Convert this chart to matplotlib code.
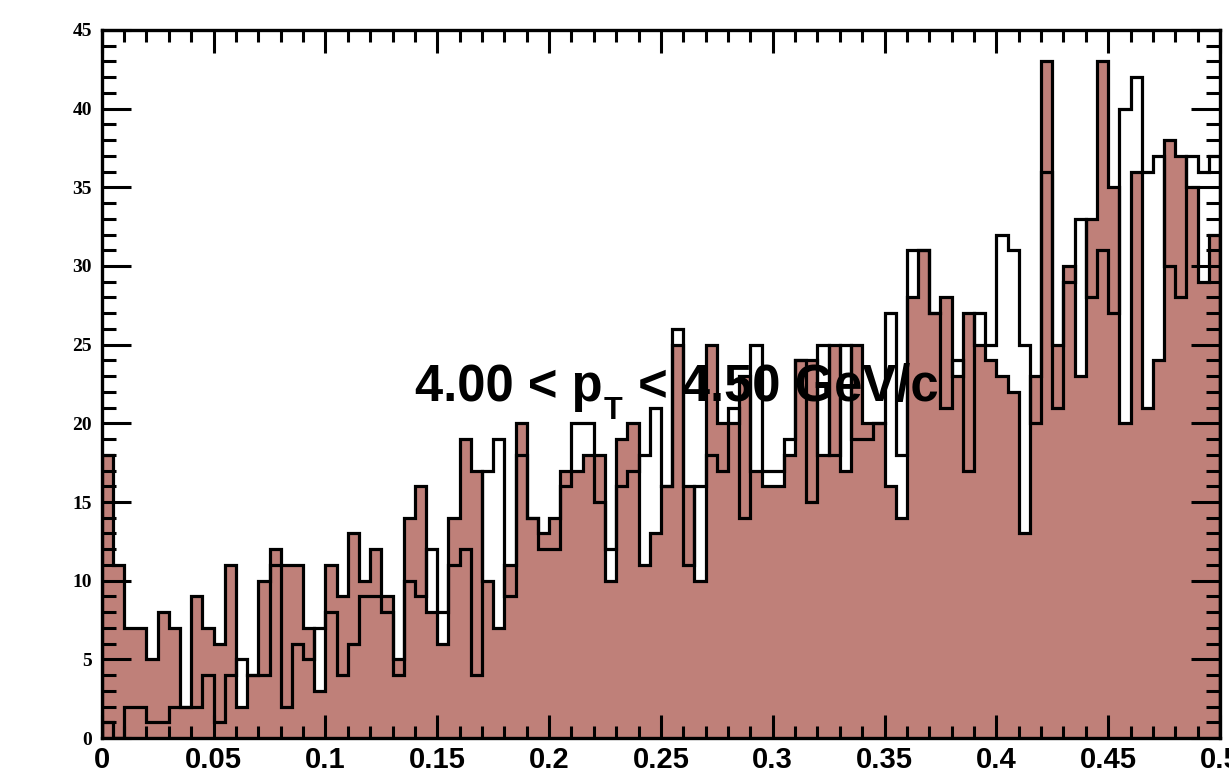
import numpy as np
import matplotlib
matplotlib.use("Agg")
import matplotlib.pyplot as plt
from matplotlib.ticker import MultipleLocator
from matplotlib.transforms import offset_copy

# bin edges: 100 bins of 0.005 between 0 and 0.5
edges = np.linspace(0.0, 0.5, 101)

# filled histogram (brown)
filled_counts = [
    18, 11, 7, 7, 5, 8, 7, 2, 9, 7,
    6, 11, 2, 4, 10, 12, 11, 11, 7, 3,
    11, 9, 13, 10, 12, 9, 5, 14, 16, 8,
    6, 14, 19, 17, 10, 7, 11, 20, 14, 13,
    14, 17, 17, 18, 18, 10, 19, 20, 11, 13,
    16, 25, 16, 10, 25, 20, 20, 23, 17, 16,
    16, 18, 24, 24, 18, 25, 17, 25, 20, 20,
    16, 14, 28, 31, 27, 28, 23, 27, 25, 24,
    23, 22, 13, 23, 43, 25, 30, 23, 33, 43,
    35, 20, 36, 21, 24, 38, 37, 35, 29, 32,
]

# open histogram (black outline only)
outline_counts = [
    1, 0, 2, 2, 1, 1, 2, 2, 2, 4,
    1, 4, 5, 4, 4, 11, 2, 6, 5, 7,
    8, 4, 6, 9, 9, 8, 4, 10, 9, 12,
    8, 11, 12, 4, 17, 19, 9, 18, 14, 12,
    12, 16, 20, 20, 15, 12, 16, 17, 18, 21,
    16, 26, 11, 16, 18, 17, 21, 14, 25, 17,
    17, 19, 24, 15, 25, 18, 25, 19, 19, 20,
    27, 18, 31, 31, 27, 21, 24, 17, 27, 25,
    32, 31, 25, 20, 36, 21, 29, 33, 28, 31,
    27, 40, 42, 36, 37, 30, 28, 37, 36, 37,
]

xticks = [0, 0.05, 0.1, 0.15, 0.2, 0.25, 0.3, 0.35, 0.4, 0.45, 0.5]
xticklabels = ["0", "0.05", "0.1", "0.15", "0.2", "0.25", "0.3", "0.35", "0.4", "0.45", "0.5"]
yticks = [0, 5, 10, 15, 20, 25, 30, 35, 40, 45]

fig = plt.figure(figsize=(12.29, 7.69), dpi=100)
ax = fig.add_axes([0.0828, 0.0403, 0.9099, 0.9207])

fill_col = '#bf8079'
lw = 2.3
ax.stairs(filled_counts, edges, fill=True, facecolor=fill_col, edgecolor='none', zorder=1)
ax.stairs(filled_counts, edges, baseline=0, color='black', linewidth=lw, zorder=2)
ax.stairs(outline_counts, edges, baseline=0, color='black', linewidth=lw, zorder=3)

ax.set_xlim(0, 0.5)
ax.set_ylim(0, 45)

ax.set_xticks(xticks)
ax.set_xticklabels(xticklabels, fontfamily='Liberation Sans', fontweight='bold', fontsize=21)
ax.set_yticks(yticks)
ax.set_yticklabels([str(v) for v in yticks], fontfamily='Liberation Serif', fontweight='bold', fontsize=14)
ax.xaxis.set_minor_locator(MultipleLocator(0.01))
ax.yaxis.set_minor_locator(MultipleLocator(1))

ax.tick_params(axis='x', which='major', direction='in', length=16.5, width=2.2,
               top=True, bottom=True, pad=6)
ax.tick_params(axis='x', which='minor', direction='in', length=8.5, width=2.2,
               top=True, bottom=True)
ax.tick_params(axis='y', which='major', direction='in', length=21, width=2.2,
               left=True, right=True, pad=7)
ax.tick_params(axis='y', which='minor', direction='in', length=10, width=2.2,
               left=True, right=True)

for sp in ax.spines.values():
    sp.set_linewidth(2.4)
    sp.set_zorder(5)

# pT range label, built from pieces so the subscript sits low like ROOT's #it{p}_{T}
font = dict(fontfamily='Liberation Sans', fontweight='bold', zorder=6)
renderer = fig.canvas.get_renderer()
t1 = ax.text(0.140, 21.4, "4.00 < p", fontsize=36.5, ha='left', va='baseline', **font)
w1 = t1.get_window_extent(renderer).width * 72 / fig.dpi
t2 = ax.text(0.140, 21.4, "T", fontsize=22,  ha='left', va='baseline',
             transform=offset_copy(ax.transData, fig, x=w1 + 1, y=-13, units='points'), **font)
w2 = t2.get_window_extent(renderer).width * 72 / fig.dpi
ax.text(0.140, 21.4, " < 4.50 GeV/c", fontsize=36.5, ha='left', va='baseline',
        transform=offset_copy(ax.transData, fig, x=w1 + w2 + 2, y=0, units='points'), **font)

fig.savefig("out.png", dpi=100)
